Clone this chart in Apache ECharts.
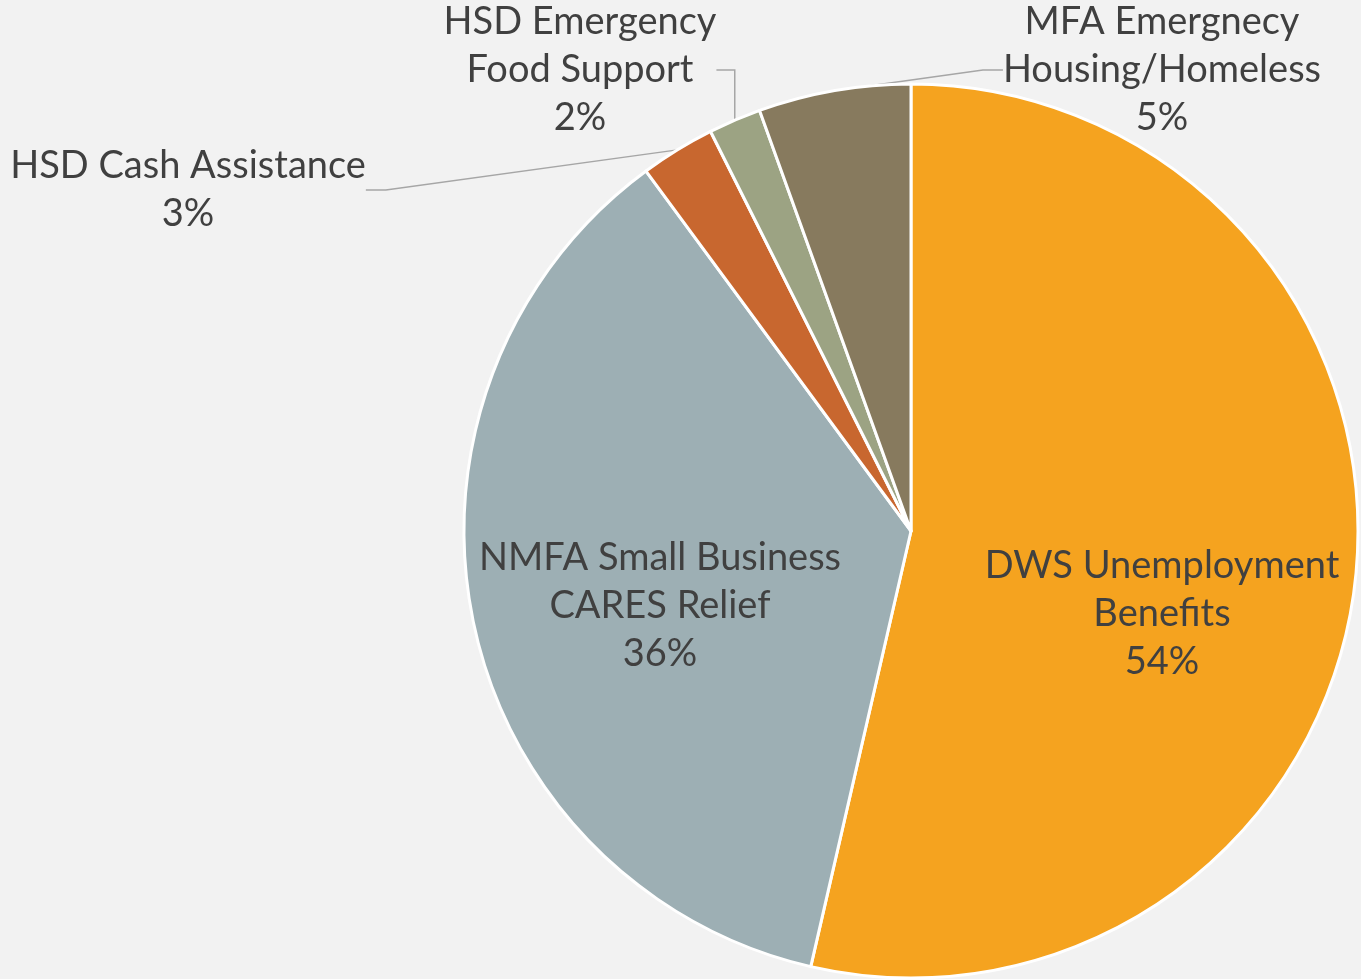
<!DOCTYPE html>
<html>
<head>
<meta charset="utf-8">
<script src="https://cdn.jsdelivr.net/npm/echarts@6/dist/echarts.min.js"></script>
<style>
html, body { margin: 0; padding: 0; background: #f2f2f2; }
#main { width: 1361px; height: 979px; }
</style>
</head>
<body>
<div id="main"></div>
<script>
// slices, clockwise from 12 o'clock
var names = [
    'DWS Unemployment\nBenefits',
    'NMFA Small Business\nCARES Relief',
    'HSD Cash Assistance',
    'HSD Emergency\nFood Support',
    'MFA Emergnecy\nHousing/Homeless'
];
var values = [53.6, 36.3, 2.7, 1.9, 5.5];
var colors = ['#f5a31f', '#9dafb4', '#c8672f', '#9ca383', '#877a5e'];

// where each label sits (centre, in px)
var labelPos = [[1162, 614], [660, 606], [188, 190], [580, 70], [1162, 70]];
var inside = [true, true, false, false, false];

var chart = echarts.init(document.getElementById('main'));

var data = [];
for (var i = 0; i < names.length; i++) {
    data.push({
        name: names[i],
        value: values[i],
        itemStyle: { color: colors[i] },
        label: { position: inside[i] ? 'inside' : 'outside' },
        labelLine: { show: !inside[i] }
    });
}

var option = {
    backgroundColor: '#f2f2f2',
    animation: false,
    series: [{
        type: 'pie',
        center: [911, 531],
        radius: 447,
        startAngle: 90,
        clockwise: true,
        avoidLabelOverlap: false,
        percentPrecision: 0,
        itemStyle: { borderColor: '#ffffff', borderWidth: 3 },
        label: {
            show: true,
            formatter: '{b}\n{d}%',
            fontFamily: 'Lato',
            fontSize: 38,
            lineHeight: 48,
            color: '#404040',
            align: 'center'
        },
        labelLine: {
            show: true,
            length: 20,
            length2: 20,
            lineStyle: { color: '#a6a6a6', width: 1.5 }
        },
        labelLayout: function (params) {
            var p = labelPos[params.dataIndex];
            return {
                x: p[0],
                y: p[1],
                align: 'center',
                verticalAlign: 'middle'
            };
        },
        data: data
    }]
};
chart.setOption(option);
</script>
</body>
</html>
